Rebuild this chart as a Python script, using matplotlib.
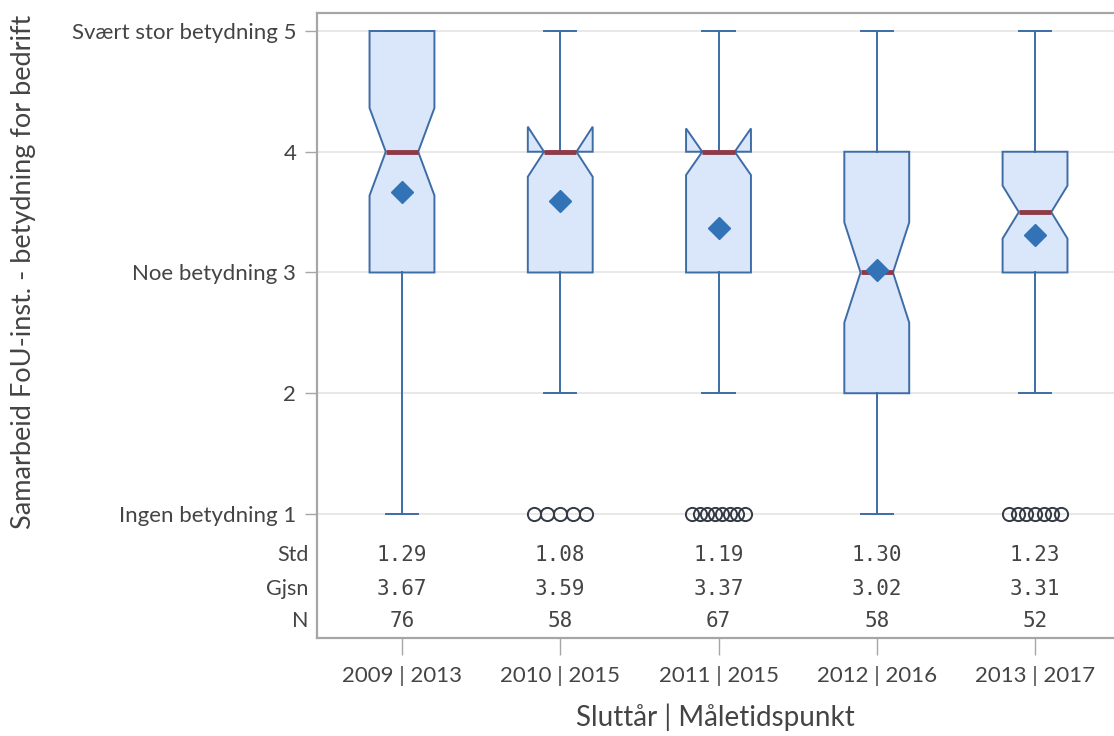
import numpy as np
import matplotlib
matplotlib.use("Agg")
import matplotlib.pyplot as plt

# per-group summary (Sluttår | Måletidspunkt)
groups = ["2009 | 2013", "2010 | 2015", "2011 | 2015", "2012 | 2016", "2013 | 2017"]
n_obs = [76, 58, 67, 58, 52]
means = [3.67, 3.59, 3.37, 3.02, 3.31]
stds = [1.29, 1.08, 1.19, 1.30, 1.23]
q1 = [3, 3, 3, 2, 3]
medians = [4, 4, 4, 3, 3.5]
q3 = [5, 4, 4, 4, 4]
whisk_lo = [1, 2, 2, 1, 2]
whisk_hi = [5, 5, 5, 5, 5]
low_outliers = [0, 5, 8, 0, 7]   # number of responses at 1 shown as outliers

ytick_vals = [1, 2, 3, 4, 5]
ytick_text = ["Ingen betydning 1", "2", "Noe betydning 3", "4", "Svært stor betydning 5"]

BOX_EDGE = "#3d6ca6"
BOX_FILL = "#dae6fa"
MED_COL = "#8e3b48"
MEAN_COL = "#3272b7"
GRID_COL = "#e4e4e4"
AXIS_COL = "#a6a6a6"
TEXT_COL = "#444444"

plt.rcParams["font.family"] = ["Lato", "DejaVu Sans"]

fig = plt.figure(figsize=(11.14, 7.36), dpi=100)
ax = fig.add_axes([317 / 1114, 98 / 736, 797 / 1114, 625 / 736])

stats = []
for i in range(len(groups)):
    iqr = q3[i] - q1[i]
    half = 1.58 * iqr / np.sqrt(n_obs[i])
    stats.append(dict(med=medians[i], q1=q1[i], q3=q3[i],
                      whislo=whisk_lo[i], whishi=whisk_hi[i],
                      cilo=medians[i] - half, cihi=medians[i] + half,
                      mean=means[i], fliers=[]))

pos = np.arange(len(groups))
box_w = 0.41
ax.bxp(stats, positions=pos, widths=box_w, patch_artist=True,
       shownotches=True, showmeans=True, showfliers=False,
       boxprops=dict(facecolor=BOX_FILL, edgecolor=BOX_EDGE, linewidth=1.4),
       whiskerprops=dict(color=BOX_EDGE, linewidth=1.4),
       capprops=dict(color=BOX_EDGE, linewidth=1.4),
       medianprops=dict(color=MED_COL, linewidth=3.5, solid_capstyle="butt"),
       meanprops=dict(marker="D", markersize=11.5, markerfacecolor=MEAN_COL,
                      markeredgecolor=MEAN_COL),
       manage_ticks=False, zorder=3)

# outliers at the bottom value, spread side by side across the box width
for i, k in enumerate(low_outliers):
    if k == 0:
        continue
    xs = pos[i] + np.linspace(-0.165, 0.165, k)
    ax.plot(xs, np.ones(k), linestyle="none", marker="o", markersize=9.5,
            markerfacecolor="none", markeredgecolor="#333a45",
            markeredgewidth=1.4, zorder=4)

# statistics table under the plot area
row_y = [0.66, 0.38, 0.115]
row_names = ["Std", "Gjsn", "N"]
row_vals = [[f"{v:.2f}" for v in stds], [f"{v:.2f}" for v in means], [str(v) for v in n_obs]]
for y, name, vals in zip(row_y, row_names, row_vals):
    ax.text(-0.59, y, name, ha="right", va="center", fontsize=15.5,
            color=TEXT_COL, clip_on=False)
    for i, v in enumerate(vals):
        ax.text(pos[i], y, v, ha="center", va="center", fontsize=15,
                family=["DejaVu Sans Mono"], color=TEXT_COL)

ax.set_xlim(-0.537, 4.499)
ax.set_ylim(-0.027, 5.149)
ax.set_yticks(ytick_vals)
ax.set_yticklabels(ytick_text, fontsize=16, color=TEXT_COL)
ax.set_xticks(pos)
ax.set_xticklabels(groups, fontsize=16, color=TEXT_COL)
ax.tick_params(axis="y", length=9, color=AXIS_COL, width=1, pad=6)
ax.tick_params(axis="x", length=12, color=AXIS_COL, width=1, pad=8)

ax.grid(axis="y", color=GRID_COL, linewidth=1.2, zorder=0)
ax.set_axisbelow(True)
for side in ["left", "top", "bottom"]:
    ax.spines[side].set_color(AXIS_COL)
    ax.spines[side].set_linewidth(1.6)
ax.spines["right"].set_visible(False)

ax.set_xlabel("Sluttår | Måletidspunkt", fontsize=20, color=TEXT_COL, labelpad=13)
ax.set_ylabel("Samarbeid FoU-inst. - betydning for bedrift", fontsize=19.5,
              color=TEXT_COL)
ax.yaxis.set_label_coords(-0.352, 0.586)

fig.savefig("out.png", dpi=100)
